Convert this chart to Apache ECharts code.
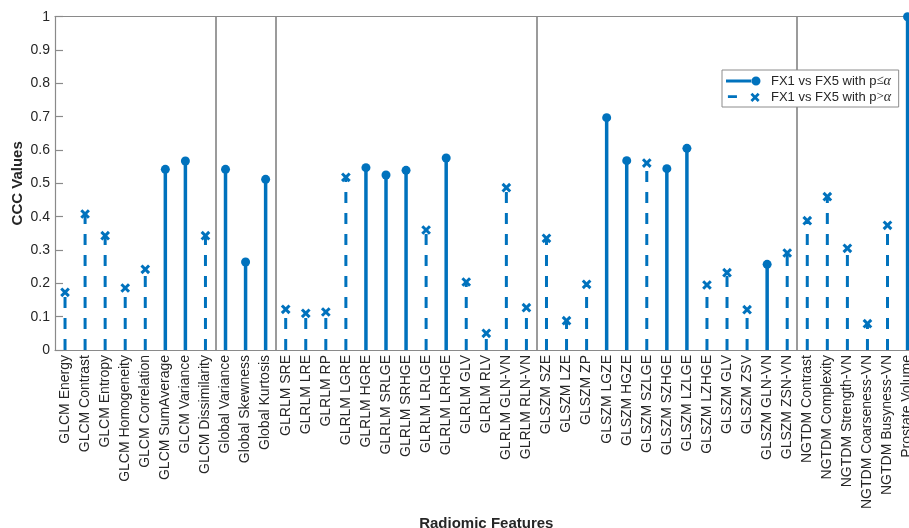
<!DOCTYPE html>
<html>
<head>
<meta charset="utf-8">
<script src="https://cdn.jsdelivr.net/npm/echarts@6/dist/echarts.min.js"></script>
<style>html,body{margin:0;padding:0;background:#fff}#c{width:909px;height:528px}</style>
</head>
<body>
<div id="c"></div>
<script>
var categories = [
  'GLCM Energy','GLCM Contrast','GLCM Entropy','GLCM Homogeneity','GLCM Correlation','GLCM SumAverage','GLCM Variance','GLCM Dissimilarity',
  'Global Variance','Global Skewness','Global Kurtosis',
  'GLRLM SRE','GLRLM LRE','GLRLM RP','GLRLM LGRE','GLRLM HGRE','GLRLM SRLGE','GLRLM SRHGE','GLRLM LRLGE','GLRLM LRHGE','GLRLM GLV','GLRLM RLV','GLRLM GLN-VN','GLRLM RLN-VN',
  'GLSZM SZE','GLSZM LZE','GLSZM ZP','GLSZM LGZE','GLSZM HGZE','GLSZM SZLGE','GLSZM SZHGE','GLSZM LZLGE','GLSZM LZHGE','GLSZM GLV','GLSZM ZSV','GLSZM GLN-VN','GLSZM ZSN-VN',
  'NGTDM Contrast','NGTDM Complexity','NGTDM Strength-VN','NGTDM Coarseness-VN','NGTDM Busyness-VN',
  'Prostate Volume'
];
var cccValues = [
  0.173,0.408,0.343,0.186,0.242,0.542,0.567,0.343,
  0.542,0.264,0.512,
  0.122,0.110,0.114,0.518,0.547,0.525,0.539,0.360,0.576,0.204,0.050,0.487,0.127,
  0.335,0.088,0.197,0.697,0.568,0.561,0.544,0.605,0.195,0.232,0.121,0.257,0.291,
  0.388,0.460,0.305,0.079,0.374,
  1.000
];
// 1 = p <= alpha (solid stem, circle), 0 = p > alpha (dashed stem, cross)
var significant = [
  0,0,0,0,0,1,1,0,
  1,1,1,
  0,0,0,0,1,1,1,0,1,0,0,0,0,
  0,0,0,1,1,0,1,1,0,0,0,1,0,
  0,0,0,0,0,
  1
];
var groupStarts = [8, 11, 24, 37];
var yTicks = [0,0.1,0.2,0.3,0.4,0.5,0.6,0.7,0.8,0.9,1];

var BLUE = '#0072BD';
var AXIS = '#8a8a8a';
var TXT = '#262626';
var FONT = '"Liberation Sans", Arial, Helvetica, sans-serif';

var sigData = [], nsData = [];
for (var i = 0; i < categories.length; i++) {
  if (significant[i]) sigData.push([i, cccValues[i]]);
  else nsData.push([i, cccValues[i]]);
}

var iconSolid = 'path://M0 0M40 10M0 3.5L26 3.5L26 6.5L0 6.5Z' +
  'M25.5 5A4.5 4.5 0 1 0 34.5 5A4.5 4.5 0 1 0 25.5 5Z';
var iconDash = 'path://M0 0M40 10M0 3.5L10 3.5L10 6.5L0 6.5Z' +
  'M27.06 0.94L35.06 8.94L32.94 11.06L24.94 3.06Z' +
  'M27.06 11.06L24.94 8.94L32.94 0.94L35.06 3.06Z';

var chart = echarts.init(document.getElementById('c'), null, {renderer: 'canvas'});
chart.setOption({
  animation: false,
  color: [BLUE],
  textStyle: {fontFamily: FONT},
  grid: {left: 55, top: 16.7, height: 333.3, width: 862.6, containLabel: false, outerBoundsMode: 'none'},
  legend: {
    left: 722, top: 70,
    orient: 'vertical',
    itemWidth: 40, itemHeight: 10, itemGap: 0,
    padding: [3, 4, 2, 4],
    borderColor: '#8c8c8c', borderWidth: 1,
    backgroundColor: '#fff',
    itemStyle: {color: BLUE, borderWidth: 0},
    data: [
      {name: 'sig', icon: iconSolid},
      {name: 'ns', icon: iconDash}
    ],
    formatter: function (name) {
      return name === 'sig' ? '{n|FX1 vs FX5 with p}{s|≤}{a|α }' : '{n|FX1 vs FX5 with p}{s|>}{a|α }';
    },
    textStyle: {
      color: TXT, fontSize: 13, lineHeight: 16, fontFamily: FONT,
      rich: {
        n: {fontSize: 13, lineHeight: 16, fontFamily: FONT, color: TXT},
        s: {fontSize: 13, lineHeight: 16, fontFamily: '"Liberation Serif", "DejaVu Serif", serif', color: TXT},
        a: {fontSize: 14, lineHeight: 16, fontFamily: '"Liberation Serif", "DejaVu Serif", serif', fontStyle: 'italic', color: TXT}
      }
    }
  },
  xAxis: [{
    type: 'category',
    data: categories,
    boundaryGap: true,
    position: 'bottom',
    name: 'Radiomic Features',
    nameLocation: 'middle',
    nameGap: 166,
    nameMoveOverlap: false,
    nameTextStyle: {fontSize: 15, fontWeight: 'bold', color: TXT, fontFamily: FONT},
    axisLine: {lineStyle: {color: AXIS, width: 1.2}},
    axisTick: {inside: true, length: 8, alignWithLabel: true, lineStyle: {color: AXIS, width: 1.2}},
    axisLabel: {rotate: 90, interval: 0, fontSize: 14, margin: 5, color: TXT, fontFamily: FONT},
    splitLine: {
      show: true,
      interval: function (index) { return groupStarts.indexOf(index) >= 0; },
      lineStyle: {color: '#7a7a7a', width: 1.5}
    }
  }, {
    type: 'category',
    data: categories,
    boundaryGap: true,
    position: 'top',
    axisLine: {lineStyle: {color: AXIS, width: 1.2}},
    axisTick: {inside: true, length: 8, alignWithLabel: true, lineStyle: {color: AXIS, width: 1.2}},
    axisLabel: {show: false},
    splitLine: {show: false}
  }],
  yAxis: {
    type: 'value',
    min: yTicks[0], max: yTicks[yTicks.length - 1], interval: 0.1,
    name: 'CCC Values',
    nameLocation: 'middle',
    nameGap: 30,
    nameMoveOverlap: false,
    nameTextStyle: {fontSize: 15, fontWeight: 'bold', color: TXT, fontFamily: FONT},
    axisLine: {show: true, lineStyle: {color: AXIS, width: 1.2}},
    axisTick: {show: true, inside: true, length: 8, lineStyle: {color: AXIS, width: 1.2}},
    axisLabel: {fontSize: 14, margin: 5, color: TXT, fontFamily: FONT},
    splitLine: {show: false}
  },
  series: [{
    name: 'sig',
    type: 'custom',
    xAxisIndex: 0,
    itemStyle: {color: BLUE},
    encode: {x: 0, y: 1},
    data: sigData,
    z: 5,
    renderItem: function (params, api) {
      var x = api.value(0), v = api.value(1);
      var p0 = api.coord([x, 0]), p1 = api.coord([x, v]);
      return {type: 'group', children: [
        {type: 'line', shape: {x1: p0[0], y1: p0[1], x2: p1[0], y2: p1[1]}, style: {stroke: BLUE, lineWidth: 3.5}},
        {type: 'circle', shape: {cx: p1[0], cy: p1[1], r: 4.5}, style: {fill: BLUE}}
      ]};
    }
  }, {
    name: 'ns',
    type: 'custom',
    xAxisIndex: 0,
    itemStyle: {color: BLUE},
    encode: {x: 0, y: 1},
    data: nsData,
    z: 5,
    renderItem: function (params, api) {
      var x = api.value(0), v = api.value(1);
      var p0 = api.coord([x, 0]), p1 = api.coord([x, v]);
      var s = 3.8;
      return {type: 'group', children: [
        {type: 'line', shape: {x1: p0[0], y1: p0[1], x2: p1[0], y2: p1[1]}, style: {stroke: BLUE, lineWidth: 3, lineDash: [11, 10]}},
        {type: 'line', shape: {x1: p1[0] - s, y1: p1[1] - s, x2: p1[0] + s, y2: p1[1] + s}, style: {stroke: BLUE, lineWidth: 3}},
        {type: 'line', shape: {x1: p1[0] - s, y1: p1[1] + s, x2: p1[0] + s, y2: p1[1] - s}, style: {stroke: BLUE, lineWidth: 3}}
      ]};
    }
  }]
});
</script>
</body>
</html>
